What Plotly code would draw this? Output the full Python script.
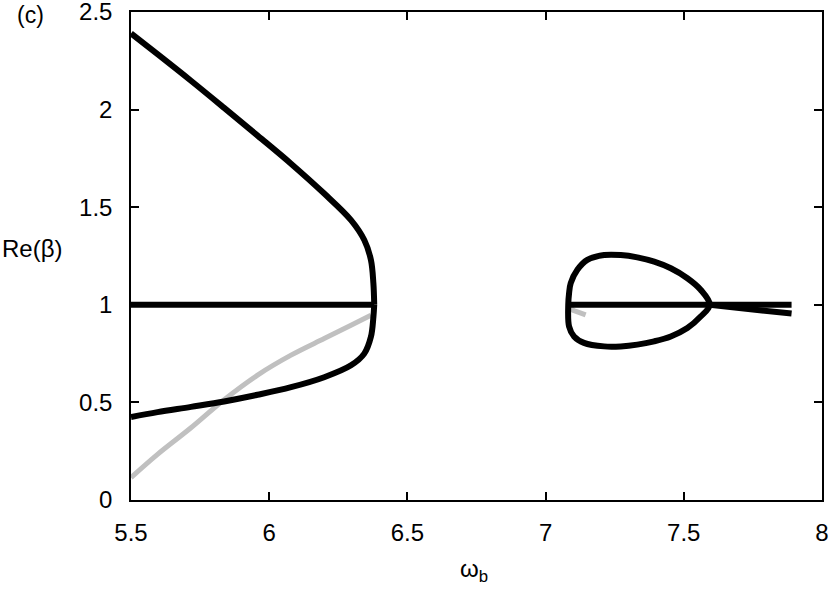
import plotly.graph_objects as go

# upper black branch (left region)
up_x = [5.5, 5.596, 5.717, 5.837, 5.958, 6.079, 6.199, 6.296, 6.344, 6.368, 6.377, 6.380]
up_y = [2.39, 2.284, 2.148, 2.009, 1.867, 1.723, 1.570, 1.434, 1.332, 1.230, 1.11, 1.0]
# lower black branch (left region)
lo_x = [5.5, 5.596, 5.717, 5.837, 5.958, 6.079, 6.199, 6.296, 6.344, 6.368, 6.377, 6.380]
lo_y = [0.425, 0.45, 0.477, 0.505, 0.539, 0.578, 0.629, 0.69, 0.75, 0.836, 0.937, 1.0]
# gray branch (left region)
gr_x = [5.5, 5.596, 5.717, 5.837, 5.958, 6.079, 6.199, 6.296, 6.368]
gr_y = [0.115, 0.234, 0.37, 0.514, 0.64, 0.742, 0.827, 0.895, 0.946]
# flat lines at Re(beta)=1
flat1_x = [5.5, 6.38]
flat2_x = [7.082, 7.89]
flat_y = [1.0, 1.0]
# closed loop (right region)
loop_x = [7.082, 7.085, 7.091, 7.115, 7.151, 7.212, 7.272, 7.332, 7.393, 7.453, 7.513, 7.561, 7.594,
          7.561, 7.513, 7.453, 7.393, 7.332, 7.272, 7.212, 7.139, 7.103, 7.085, 7.082]
loop_y = [1.0, 1.06, 1.111, 1.179, 1.230, 1.255, 1.255, 1.243, 1.221, 1.187, 1.136, 1.077, 1.0,
          0.940, 0.881, 0.838, 0.813, 0.796, 0.787, 0.787, 0.805, 0.838, 0.889, 1.0]
tail_x = [7.594, 7.75, 7.89]
tail_y = [1.0, 0.976, 0.955]
gr2_x = [7.085, 7.10, 7.145]
gr2_y = [0.995, 0.972, 0.948]

black = "#000000"
gray = "#c0c0c0"

fig = go.Figure()
fig.add_trace(go.Scatter(x=gr_x, y=gr_y, mode="lines",
                         line=dict(color=gray, width=5, shape="spline", smoothing=1)))
fig.add_trace(go.Scatter(x=gr2_x, y=gr2_y, mode="lines", line=dict(color=gray, width=5)))
for xs, ys in [(up_x, up_y), (lo_x, lo_y), (flat1_x, flat_y), (flat2_x, flat_y),
               (loop_x, loop_y), (tail_x, tail_y)]:
    fig.add_trace(go.Scatter(x=xs, y=ys, mode="lines",
                             line=dict(color=black, width=6, shape="spline", smoothing=1)))

font = dict(family="Liberation Sans, Arial, sans-serif", size=24, color="black")
axis = dict(showline=True, linecolor="black", linewidth=1.5, mirror="ticks", ticks="inside",
            ticklen=8, tickwidth=1.5, tickcolor="black", showgrid=False, zeroline=False,
            tickfont=font, automargin=False, ticklabeloverflow="allow")
fig.update_xaxes(range=[5.5, 8.0001], tickvals=[5.5, 6, 6.5, 7, 7.5, 8], ticklabelstandoff=10, **axis)
fig.update_yaxes(range=[0, 2.5001], tickvals=[0, 0.5, 1, 1.5, 2, 2.5], ticklabelstandoff=12, **axis)

fig.add_annotation(text="Re(β)", xref="paper", yref="paper", x=-0.19, y=(500 - 248) / 488,
                   showarrow=False, font=font, xanchor="left")
fig.add_annotation(text="ω<sub>b</sub>", xref="paper", yref="paper", x=0.497, y=-0.18,
                   showarrow=False, font=font)
fig.add_annotation(text="(c)", xref="paper", yref="paper", x=-0.168, y=0.994,
                   showarrow=False, font=dict(family="Liberation Sans, Arial, sans-serif", size=23,
                                              color="black"), xanchor="left", yanchor="middle")

fig.update_layout(width=830, height=590, margin=dict(l=131, r=8, t=12, b=90),
                  plot_bgcolor="white", paper_bgcolor="white", showlegend=False)
# page body has a default 8px margin; drop it so the figure sits at the corner
fig.write_html("out.html", config={"displayModeBar": False},
               post_script="document.body.style.margin='0';")
